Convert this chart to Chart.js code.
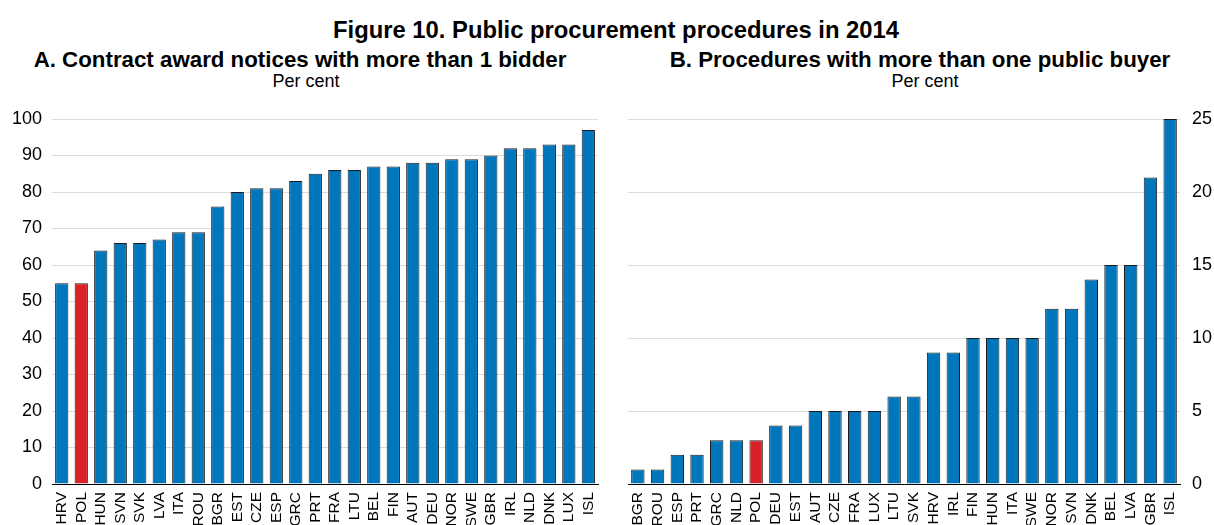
<!DOCTYPE html>
<html>
<head>
<meta charset="utf-8">
<script src="https://cdn.jsdelivr.net/npm/chart.js@4"></script>
<style>
  html, body { margin: 0; padding: 0; background: #fff; }
  body { width: 1214px; height: 525px; position: relative; overflow: hidden; font-family: "Liberation Sans", Arial, sans-serif; color: #000; }
  canvas { position: absolute; top: 0; }
  .txt { position: absolute; line-height: 1; white-space: nowrap; transform: translateX(-50%); }
  .main { font-size: 23.8px; font-weight: bold; top: 18px; left: 616px; }
  .sub { font-size: 22.3px; font-weight: bold; top: 49px; }
  .unit { font-size: 18px; top: 72px; }
</style>
</head>
<body>
<div class="txt main">Figure 10. Public procurement procedures in 2014</div>
<div class="txt sub" style="left:300px">A. Contract award notices with more than 1 bidder</div>
<div class="txt unit" style="left:306px">Per cent</div>
<div class="txt sub" style="left:920px">B. Procedures with more than one public buyer</div>
<div class="txt unit" style="left:925px">Per cent</div>
<canvas id="chartA" width="607" height="525" style="left:0"></canvas>
<canvas id="chartB" width="607" height="525" style="left:607px"></canvas>
<script>
// panel A: share of contract award notices with more than 1 bidder
const countriesA = ['HRV', 'POL', 'HUN', 'SVN', 'SVK', 'LVA', 'ITA', 'ROU', 'BGR', 'EST', 'CZE', 'ESP', 'GRC', 'PRT',
  'FRA', 'LTU', 'BEL', 'FIN', 'AUT', 'DEU', 'NOR', 'SWE', 'GBR', 'IRL', 'NLD', 'DNK', 'LUX', 'ISL'];
const valuesA = [55, 55, 64, 66, 66, 67, 69, 69, 76, 80, 81, 81, 83, 85,
  86, 86, 87, 87, 88, 88, 89, 89, 90, 92, 92, 93, 93, 97];
const ticksA = [0, 10, 20, 30, 40, 50, 60, 70, 80, 90, 100];

// panel B: procedures with more than one public buyer
const countriesB = ['BGR', 'ROU', 'ESP', 'PRT', 'GRC', 'NLD', 'POL', 'DEU', 'EST', 'AUT', 'CZE', 'FRA', 'LUX', 'LTU',
  'SVK', 'HRV', 'IRL', 'FIN', 'HUN', 'ITA', 'SWE', 'NOR', 'SVN', 'DNK', 'BEL', 'LVA', 'GBR', 'ISL'];
const valuesB = [1, 1, 2, 2, 3, 3, 3, 4, 4, 5, 5, 5, 5, 6,
  6, 9, 9, 10, 10, 10, 10, 12, 12, 14, 15, 15, 21, 25];
const ticksB = [0, 5, 10, 15, 20, 25];

const highlight = 'POL';

const BLUE = '#0077bd';
const RED = '#db2128';
const FONT = '"Liberation Sans", Arial, sans-serif';

function makeChart(id, labels, values, yTicks, side, padding) {
  return new Chart(document.getElementById(id), {
    type: 'bar',
    data: {
      labels,
      datasets: [{
        data: values,
        backgroundColor: labels.map((c) => (c === highlight ? RED : BLUE)),
        borderColor: '#1b1b1b',
        borderWidth: 1,
        barPercentage: 0.68,
        categoryPercentage: 1,
      }],
    },
    options: {
      responsive: false,
      animation: false,
      layout: { padding },
      plugins: { legend: { display: false }, tooltip: { enabled: false } },
      scales: {
        x: {
          grid: { display: false },
          border: { display: true, color: '#000', width: 1 },
          ticks: {
            color: '#000',
            font: { family: FONT, size: 15.5 },
            minRotation: 90,
            maxRotation: 90,
            autoSkip: false,
            padding: 0,
          },
          afterFit: (scale) => { scale.height = 41; },
        },
        y: {
          position: side,
          min: yTicks[0],
          max: yTicks[yTicks.length - 1],
          afterBuildTicks: (scale) => { scale.ticks = yTicks.map((v) => ({ value: v })); },
          grid: { color: '#dcdcdc', lineWidth: 1, drawTicks: false },
          border: { display: false },
          ticks: {
            color: '#000',
            font: { family: FONT, size: 18 },
            padding: side === 'left' ? 10 : 12,
          },
          afterFit: (scale) => { scale.width = side === 'left' ? 52 : 34; },
        },
      },
    },
  });
}

makeChart('chartA', countriesA, valuesA, ticksA, 'left', { top: 119, right: 4, bottom: 0, left: 0 });
makeChart('chartB', countriesB, valuesB, ticksB, 'right', { top: 119, right: 0, bottom: 0, left: 21 });
</script>
</body>
</html>
